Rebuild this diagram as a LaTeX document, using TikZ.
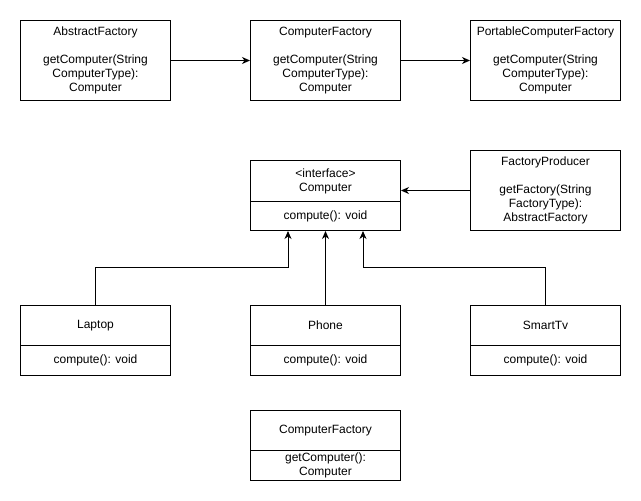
\documentclass[tikz,border=0pt]{standalone}
\usepackage{fontspec}
\setmainfont{Liberation Sans}
\usetikzlibrary{arrows.meta,calc}
\tikzset{
  box/.style={draw=black, line width=1pt, minimum width=150pt, inner sep=0pt, align=center,
    font=\fontsize{12}{14}\selectfont, anchor=north west},
  conn/.style={draw=black, line width=1pt, -{Stealth[length=8pt,width=7pt,inset=2.5pt]}}
}
\begin{document}
\begin{tikzpicture}[x=1pt,y=-1pt]
\fill[white] (0,0) rectangle (641,501);
\useasboundingbox (0,0) rectangle (641,501);
% top row
\node[box, minimum height=80pt] (abs) at (20,20) {AbstractFactory\\[14pt]getComputer(String\\ComputerType):\\Computer};
\node[box, minimum height=80pt] (cf) at (250,20) {ComputerFactory\\[14pt]getComputer(String\\ComputerType):\\Computer};
\node[box, minimum height=80pt] (pcf) at (470,20) {PortableComputerFactory\\[14pt]getComputer(String\\ComputerType):\\Computer};
% interface
\node[box, minimum height=41pt] (compH) at (250,160) {<interface>\\Computer};
\node[box, minimum height=29pt] (compB) at (250,201) {compute(): void};
\node[box, minimum height=80pt] (fp) at (470,150) {FactoryProducer\\[14pt]getFactory(String\\FactoryType):\\AbstractFactory};
% implementations
\node[box, minimum height=40pt] (lapH) at (20,305) {Laptop};
\node[box, minimum height=30pt] (lapB) at (20,345) {compute(): void};
\node[box, minimum height=40pt] (phH) at (250,305) {Phone};
\node[box, minimum height=30pt] (phB) at (250,345) {compute(): void};
\node[box, minimum height=40pt] (tvH) at (470,305) {SmartTv};
\node[box, minimum height=30pt] (tvB) at (470,345) {compute(): void};
% bottom
\node[box, minimum height=40pt] (bcfH) at (250,410) {ComputerFactory};
\node[box, minimum height=30pt] (bcfB) at (250,450) {getComputer():\\Computer};
% connectors
\draw[conn] (abs.east) -- (cf.west);
\draw[conn] (cf.east) -- (pcf.west);
\draw[conn] (fp.west) -- (fp.west -| compH.east);
\draw[conn] (phH.north) -- (compB.south);
\draw[conn] (lapH.north) -- ++(0,-37.5) -| ($(compB.south)+(-37.5,0)$);
\draw[conn] (tvH.north) -- ++(0,-37.5) -| ($(compB.south)+(37.5,0)$);
\end{tikzpicture}
\end{document}
